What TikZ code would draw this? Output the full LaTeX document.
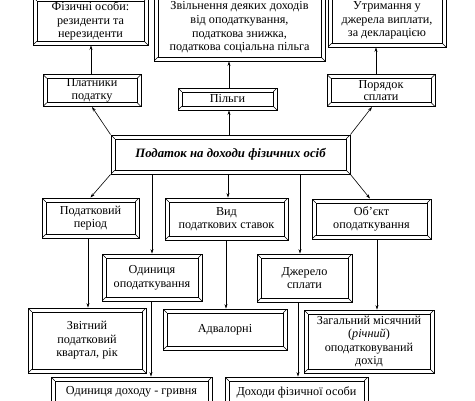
\documentclass[tikz,border=0pt]{standalone}
\usepackage{fontspec}
\setmainfont{Liberation Serif}
\usetikzlibrary{arrows.meta,calc}
\tikzset{
  fbox/.style={draw, line width=0.9pt, inner sep=0pt, align=center,
    font=\fontsize{12.2}{13.6}\selectfont,
    path picture={
      \draw[line width=0.55pt] ([shift={(3.8pt,3.8pt)}]path picture bounding box.south west) rectangle ([shift={(-3.8pt,-3.8pt)}]path picture bounding box.north east);
      \draw[line width=0.5pt] (path picture bounding box.south west) -- ++(3.8pt,3.8pt);
      \draw[line width=0.5pt] (path picture bounding box.north west) -- ++(3.8pt,-3.8pt);
      \draw[line width=0.5pt] (path picture bounding box.south east) -- ++(-3.8pt,3.8pt);
      \draw[line width=0.5pt] (path picture bounding box.north east) -- ++(-3.8pt,-3.8pt);
    }},
  tight/.style={font=\fontsize{12.2}{12.4}\selectfont},
  conn/.style={line width=0.6pt, -{Stealth[length=4.5pt,width=3pt]}}
}
\begin{document}
\begin{tikzpicture}[x=1pt,y=-1pt]
\useasboundingbox[fill=white] (0,0) rectangle (475,400);
% top row
\node[fbox, minimum width=115pt, minimum height=48pt] (A) at (90.5,21) {Фізичні особи:\\резиденти та\\нерезиденти};
\node[fbox, minimum width=171pt, minimum height=67pt] (B) at (239.5,27.5) {Звільнення деяких доходів\\від оподаткування,\\податкова знижка,\\податкова соціальна пільга};
\node[fbox, minimum width=118pt, minimum height=53pt] (C) at (387,20.5) {Утримання у\\джерела виплати,\\за декларацією};
% second row
\node[fbox, tight, minimum width=98pt, minimum height=32pt] (plat) at (92,90.5) {Платники\\податку};
\node[fbox, minimum width=99pt, minimum height=22pt] (pilg) at (227.5,99) {Пільги};
\node[fbox, tight, minimum width=108pt, minimum height=32pt] (por) at (381,90.5) {Порядок\\сплати};
% central
\node[fbox, minimum width=239pt, minimum height=39pt, font=\fontsize{12.8}{14}\selectfont\bfseries\itshape] (main) at (230.5,154.5) {Податок на доходи фізичних осіб};
% third row
\node[fbox, minimum width=97pt, minimum height=40pt] (per) at (90.5,218) {Податковий\\період};
\node[fbox, minimum width=123pt, minimum height=42pt] (vyd) at (226.5,219) {Вид\\податкових ставок};
\node[fbox, minimum width=119pt, minimum height=40pt] (obj) at (371.5,219) {Об'єкт\\оподаткування};
% fourth row
\node[fbox, minimum width=100pt, minimum height=47pt] (odyn) at (152,277.5) {Одиниця\\оподаткування};
\node[fbox, minimum width=95pt, minimum height=48pt] (dzh) at (304.5,278) {Джерело\\сплати};
% fifth row
\node[fbox, minimum width=118pt, minimum height=65pt] (zvit) at (87,340.5) {Звітний\\податковий\\квартал, рік};
\node[fbox, minimum width=124pt, minimum height=41pt] (adv) at (225,329.5) {Адвалорні};
\node[fbox, minimum width=130pt, minimum height=63pt] (zag) at (369,341.5) {Загальний місячний\\(\textit{річний})\\оподатковуваний\\дохід};
% bottom row
\node[fbox, minimum width=161pt, minimum height=30pt] (odd) at (131.5,392) {Одиниця доходу - гривня};
\node[fbox, minimum width=143pt, minimum height=30pt] (doh) at (296.5,392) {Доходи фізичної особи};
% connectors upward
\draw[conn] (plat.north -| 91,0) -- (A.south -| 91,0);
\draw[conn] (pilg.north -| 229,0) -- (B.south -| 229,0);
\draw[conn] (por.north -| 376,0) -- (C.south -| 376,0);
\draw[conn] (main.north west) -- (plat.south);
\draw[conn] (main.north -| 229,0) -- (pilg.south -| 229,0);
\draw[conn] (main.north east) -- (por.south -| 372,0);
% connectors downward
\draw[conn] (main.south west) -- (per.north);
\draw[conn] (main.south -| odyn.north) -- (odyn.north);
\draw[conn] (main.south -| 228,0) -- (vyd.north -| 228,0);
\draw[conn] (main.south -| 300,0) -- (dzh.north -| 300,0);
\draw[conn] (main.south east) -- (obj.north -| 370,0);
\draw[conn] (per.south -| 88,0) -- (zvit.north -| 88,0);
\draw[conn] (vyd.south -| 226,0) -- (adv.north -| 226,0);
\draw[conn] (obj.south -| 377,0) -- (zag.north -| 377,0);
\draw[conn] (odyn.south -| 151,0) -- (odd.north -| 151,0);
\draw[conn] (dzh.south -| 298,0) -- (doh.north -| 298,0);
\end{tikzpicture}
\end{document}
